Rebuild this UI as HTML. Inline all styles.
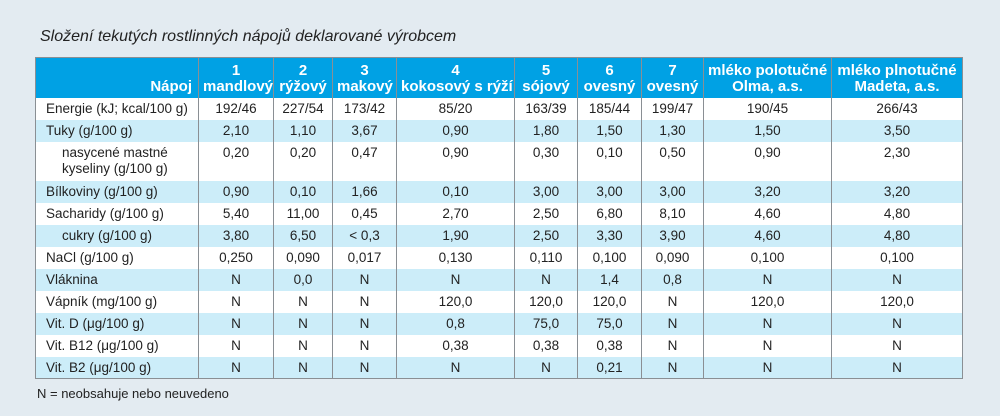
<!DOCTYPE html>
<html><head><meta charset="utf-8"><style>
body{margin:0;width:1000px;height:416px;background:#e3ebf1;font-family:"Liberation Sans Narrow","Liberation Sans",sans-serif;overflow:hidden;position:relative}
.title{position:absolute;left:40px;top:28px;font-family:"Liberation Sans",sans-serif;font-style:italic;font-size:16px;color:#222}
table{position:absolute;left:35px;top:57px;border-collapse:collapse;table-layout:fixed;width:927px;font-size:13.5px;color:#222;background:#fff}
td,th{border-left:1px solid #8a8f94;border-right:1px solid #8a8f94;padding:0 4px;text-align:center;vertical-align:top;line-height:16px;white-space:nowrap;overflow:hidden}
th{background:#00a1e4;color:#fff;font-weight:bold;font-size:15px;line-height:16px;height:40px;vertical-align:bottom;padding-bottom:3px;box-sizing:border-box}
table{border:1px solid #8a8f94}
td{height:22px;padding-top:3px;box-sizing:border-box}
td:first-child{text-align:left;padding-left:10px}
tr.b td{background:#ccedf9}
tr.tall td{height:39px}
.ind{padding-left:26px!important}
.foot{position:absolute;left:37px;top:386px;font-size:13px;color:#222}
</style></head><body>
<div class="title">Složení tekutých rostlinných nápojů deklarované výrobcem</div>
<table>
<colgroup><col style="width:163px"><col style="width:75px"><col style="width:59px"><col style="width:64px"><col style="width:118px"><col style="width:63px"><col style="width:64px"><col style="width:62px"><col style="width:128px"><col style="width:131px"></colgroup>
<tr><th style="text-align:right;padding-right:6px">Nápoj</th><th>1<br>mandlový</th><th>2<br>rýžový</th><th>3<br>makový</th><th>4<br>kokosový s rýží</th><th>5<br>sójový</th><th>6<br>ovesný</th><th>7<br>ovesný</th><th>mléko polotučné<br>Olma, a.s.</th><th>mléko plnotučné<br>Madeta, a.s.</th></tr>
<tr><td>Energie (kJ; kcal/100 g)</td><td>192/46</td><td>227/54</td><td>173/42</td><td>85/20</td><td>163/39</td><td>185/44</td><td>199/47</td><td>190/45</td><td>266/43</td></tr>
<tr class="b"><td>Tuky (g/100 g)</td><td>2,10</td><td>1,10</td><td>3,67</td><td>0,90</td><td>1,80</td><td>1,50</td><td>1,30</td><td>1,50</td><td>3,50</td></tr>
<tr class="tall"><td class="ind">nasycené mastné<br>kyseliny (g/100 g)</td><td>0,20</td><td>0,20</td><td>0,47</td><td>0,90</td><td>0,30</td><td>0,10</td><td>0,50</td><td>0,90</td><td>2,30</td></tr>
<tr class="b"><td>Bílkoviny (g/100 g)</td><td>0,90</td><td>0,10</td><td>1,66</td><td>0,10</td><td>3,00</td><td>3,00</td><td>3,00</td><td>3,20</td><td>3,20</td></tr>
<tr><td>Sacharidy (g/100 g)</td><td>5,40</td><td>11,00</td><td>0,45</td><td>2,70</td><td>2,50</td><td>6,80</td><td>8,10</td><td>4,60</td><td>4,80</td></tr>
<tr class="b"><td class="ind">cukry (g/100 g)</td><td>3,80</td><td>6,50</td><td>&lt; 0,3</td><td>1,90</td><td>2,50</td><td>3,30</td><td>3,90</td><td>4,60</td><td>4,80</td></tr>
<tr><td>NaCl (g/100 g)</td><td>0,250</td><td>0,090</td><td>0,017</td><td>0,130</td><td>0,110</td><td>0,100</td><td>0,090</td><td>0,100</td><td>0,100</td></tr>
<tr class="b"><td>Vláknina</td><td>N</td><td>0,0</td><td>N</td><td>N</td><td>N</td><td>1,4</td><td>0,8</td><td>N</td><td>N</td></tr>
<tr><td>Vápník (mg/100 g)</td><td>N</td><td>N</td><td>N</td><td>120,0</td><td>120,0</td><td>120,0</td><td>N</td><td>120,0</td><td>120,0</td></tr>
<tr class="b"><td>Vit. D (μg/100 g)</td><td>N</td><td>N</td><td>N</td><td>0,8</td><td>75,0</td><td>75,0</td><td>N</td><td>N</td><td>N</td></tr>
<tr><td>Vit. B12 (μg/100 g)</td><td>N</td><td>N</td><td>N</td><td>0,38</td><td>0,38</td><td>0,38</td><td>N</td><td>N</td><td>N</td></tr>
<tr class="b"><td>Vit. B2 (μg/100 g)</td><td>N</td><td>N</td><td>N</td><td>N</td><td>N</td><td>0,21</td><td>N</td><td>N</td><td>N</td></tr>
</table>
<div class="foot">N = neobsahuje nebo neuvedeno</div>
</body></html>
